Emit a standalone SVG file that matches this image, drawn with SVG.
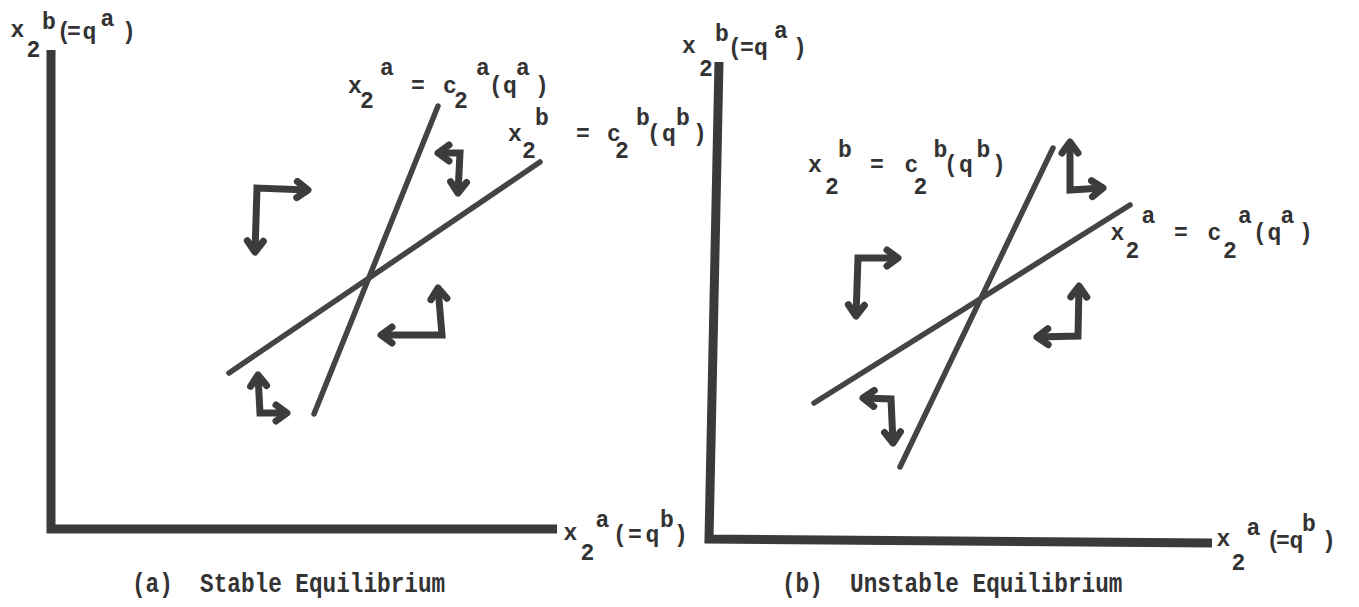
<svg xmlns="http://www.w3.org/2000/svg" width="1359" height="607" viewBox="0 0 1359 607">
<style>
  text { font-family: "Liberation Mono", "Courier New", monospace; font-size: 23px; font-weight: bold; fill: #333; }
  .cap { font-size: 22.7px; }
  .axis { fill: none; stroke: #3a3a3a; stroke-width: 9; stroke-linejoin: miter; stroke-linecap: butt; }
  .curve { fill: none; stroke: #444; stroke-width: 5.5; stroke-linecap: round; }
  .arr { fill: none; stroke: #3c3c3c; stroke-width: 7; stroke-linejoin: miter; marker-start: url(#head); marker-end: url(#head); }
</style>
<defs>
  <marker id="head" viewBox="0 0 24 24" markerUnits="userSpaceOnUse" markerWidth="24" markerHeight="24" refX="17" refY="12" orient="auto-start-reverse">
    <path d="M6,4 L17,12 L6,20" fill="none" stroke="#3c3c3c" stroke-width="7" stroke-linecap="round" stroke-linejoin="round"/>
  </marker>
</defs>
<rect width="1359" height="607" fill="#fff"/>

<g id="panel-a">
  <g id="axes-a">
    <path class="axis" d="M51,50 L51,529 L557,529"/>
    <text id="ylabel-a" x="10.5 26.5 42 57 67 82.5 100.5 122" y="37 57 29 39 39 39 26 39">x2b(=qa)</text>
    <text id="xlabel-a" x="563.5 580.5 595.5 613 628 645.5 660 674" y="540 560 527 542 542 542 527 542">x2a(=qb)</text>
  </g>
  <g id="curve-a-a">
    <line class="curve" x1="438" y1="106" x2="314" y2="414"/>
    <text x="348 360 380 395 411 427 443 454 476 489 503 516 535" y="93 108 75 93 93 93 93 108 75 93 93 75 93">x2a = c2a(qa)</text>
  </g>
  <g id="curve-a-b">
    <line class="curve" x1="540" y1="162" x2="229" y2="373"/>
    <text x="508 522 535 552 576 592 607 615 636 647 662 676 693" y="141 158 125 141 141 141 141 158 125 141 141 125 141">x2b = c2b(qb)</text>
  </g>
  <g id="connectors-a">
    <path class="arr" d="M255,252 L257,188 L308,190"/>
    <path class="arr" d="M438,153 L460,153 L458,193"/>
    <path class="arr" d="M438,288 L442,335 L381,335"/>
    <path class="arr" d="M258,375 L260,413 L287,413"/>
  </g>
  <text id="caption-a" class="cap" transform="translate(132,592) scale(1,1.18)" x="0" y="0" xml:space="preserve">(a)  Stable Equilibrium</text>
</g>

<g id="panel-b">
  <g id="axes-b">
    <path class="axis" d="M719,62 L709,539 L1212,543"/>
    <text id="ylabel-b" x="682 699 715 728 740 754 774 793" y="53 76 41 55 55 55 38 55">x2b(=qa)</text>
    <text id="xlabel-b" x="1216.5 1231.5 1246.5 1266.5 1276 1289.5 1302 1322" y="546 570 535 548 548 548 531 548">x2a(=qb)</text>
  </g>
  <g id="curve-b-a">
    <line class="curve" x1="1130" y1="205" x2="814" y2="403"/>
    <text x="1110.5 1125.5 1141.5 1158 1174 1190 1207.5 1223 1238 1253 1267.5 1280.5 1299" y="240 258 223 240 240 240 240 258 223 240 240 223 240">x2a = c2a(qa)</text>
  </g>
  <g id="curve-b-b">
    <line class="curve" x1="1053" y1="148" x2="900" y2="467"/>
    <text x="808 825 838 854 870 888 904.5 913.6 933.6 944 959 976.5 992" y="172 194 157 172 172 172 172 194 157 172 172 157 172">x2b = c2b(qb)</text>
  </g>
  <g id="connectors-b">
    <path class="arr" d="M898,258 L858,258 L856,316"/>
    <path class="arr" d="M1070,142 L1070,190 L1103,188"/>
    <path class="arr" d="M1079,286 L1078,336 L1037,337"/>
    <path class="arr" d="M863,398 L891,399 L893,443"/>
  </g>
  <text id="caption-b" class="cap" transform="translate(782,592) scale(1,1.18)" x="0" y="0" xml:space="preserve">(b)  Unstable Equilibrium</text>
</g>
</svg>
